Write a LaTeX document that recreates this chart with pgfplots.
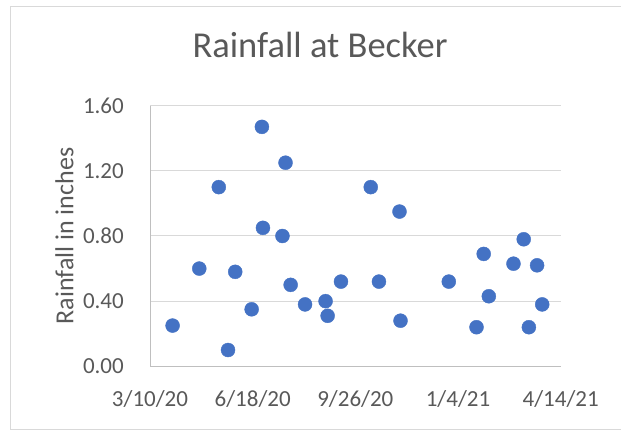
\documentclass[border=0pt]{standalone}
\usepackage{fontspec}
\setmainfont{Carlito}
\usepackage{pgfplots}
\pgfplotsset{compat=1.18}
\definecolor{txt}{HTML}{595959}
\definecolor{gridc}{HTML}{D9D9D9}
\definecolor{axl}{HTML}{BFBFBF}
\definecolor{dot}{HTML}{4472C4}
\begin{document}
\begin{tikzpicture}
\useasboundingbox (0,0) rectangle (621bp,430bp);
\draw[gridc, line width=1bp] (621bp,423bp) -- (10bp,423bp) -- (10bp,1bp) -- (621bp,1bp);
\begin{axis}[
  at={(150bp,63.7bp)}, anchor=south west,
  scale only axis, width=410.7bp, height=260.6bp,
  xmin=0, xmax=400, ymin=0, ymax=1.6,
  axis x line*=bottom, axis y line*=left,
  axis line style={axl, line width=1bp, -},
  xtick={0,100,200,300,400},
  xticklabels={3/10/20,6/18/20,9/26/20,1/4/21,4/14/21},
  ytick={0,0.4,0.8,1.2,1.6},
  yticklabels={0.00,0.40,0.80,1.20,1.60},
  major tick length=0pt,
  ymajorgrids, grid style={gridc, line width=1bp},
  tick label style={font=\fontsize{23bp}{27bp}\selectfont, text=txt, inner sep=0pt},
  xticklabel style={anchor=base, yshift=-40.4bp},
  yticklabel style={anchor=east, xshift=-26bp},
  title={Rainfall at Becker},
  title style={font=\fontsize{36.5bp}{40bp}\selectfont, text=txt, at={(axis description cs:0.414,1.1627)}, anchor=base, inner sep=0pt},
  ylabel={Rainfall in inches},
  ylabel style={font=\fontsize{26bp}{30bp}\selectfont, text=txt, at={(axis description cs:-0.1868,0.5)}, anchor=base, inner sep=0pt},
  clip=false,
]
\addplot[only marks, mark=*, color=dot, mark size=7bp, mark options={fill=dot, draw=dot, line width=0.4bp}] coordinates {
(22,0.25) (48,0.60) (67,1.10) (76,0.10) (83,0.58) (99,0.35) (109,1.47)
(110,0.85) (129,0.80) (132,1.25) (137,0.50) (151,0.38) (171,0.40) (173,0.31)
(186,0.52) (215,1.10) (223,0.52) (243,0.95) (244,0.28) (291,0.52) (318,0.24)
(325,0.69) (330,0.43) (354,0.63) (364,0.78) (369,0.24) (377,0.62) (382,0.38)
};
\end{axis}
\end{tikzpicture}
\end{document}
